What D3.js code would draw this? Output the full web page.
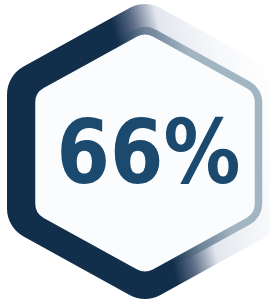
<!DOCTYPE html>
<html>
<head>
<meta charset="utf-8">
<script src="https://cdn.jsdelivr.net/npm/d3@7"></script>
<style>
  html, body { margin: 0; padding: 0; background: #ffffff; }
  #chart { width: 270px; height: 303px; }
</style>
</head>
<body>
<div id="chart"></div>
<script>
// stat shown in the badge
const values = [66];
const labels = ['66%'];
const colors = ['#112e4b', '#1c4a6e', '#a1b5c3'];

const width = 270, height = 303;

const svg = d3.select('#chart').append('svg')
    .attr('width', width)
    .attr('height', height);

// hexagon path with rounded corners (pointy top)
function hexPath(cx, cy, hw, hh, r) {
    const pts = [
        [cx, cy - hh], [cx + hw, cy - hh / 2], [cx + hw, cy + hh / 2],
        [cx, cy + hh], [cx - hw, cy + hh / 2], [cx - hw, cy - hh / 2]
    ];
    const p = d3.path();
    const n = pts.length;
    const m0 = [(pts[n - 1][0] + pts[0][0]) / 2, (pts[n - 1][1] + pts[0][1]) / 2];
    p.moveTo(m0[0], m0[1]);
    for (let i = 0; i < n; i++) {
        const a = pts[i], b = pts[(i + 1) % n];
        p.arcTo(a[0], a[1], b[0], b[1], r);
    }
    p.closePath();
    return p.toString();
}

// gradient direction (fade goes right and slightly up)
const dir = [0.970, -0.2425];
const defs = svg.append('defs');

const band = defs.append('linearGradient')
    .attr('id', 'band')
    .attr('gradientUnits', 'userSpaceOnUse')
    .attr('x1', 103 * dir[0]).attr('y1', 103 * dir[1])
    .attr('x2', 270 * dir[0]).attr('y2', 270 * dir[1]);
[[0, colors[0], 1], [0.12, '#5b6b86', 1], [0.27, '#e2e6ee', 1],
 [0.6, '#f2f4f8', 0.6], [1, '#ffffff', 0]].forEach(s => {
    band.append('stop').attr('offset', s[0])
        .attr('stop-color', s[1]).attr('stop-opacity', s[2]);
});

const edge = defs.append('linearGradient')
    .attr('id', 'edge')
    .attr('gradientUnits', 'userSpaceOnUse')
    .attr('x1', 103 * dir[0]).attr('y1', 103 * dir[1])
    .attr('x2', 170 * dir[0]).attr('y2', 170 * dir[1]);
edge.append('stop').attr('offset', 0).attr('stop-color', colors[0]);
edge.append('stop').attr('offset', 0.45).attr('stop-color', '#6c8096');
edge.append('stop').attr('offset', 1).attr('stop-color', colors[2]);

// outer band
svg.append('path')
    .attr('d', hexPath(145, 151.5, 138, 152, 32))
    .attr('fill', 'url(#band)');

// inner face
svg.append('path')
    .attr('d', hexPath(145, 153, 113.5, 125, 20))
    .attr('fill', '#fafcfd')
    .attr('stroke', 'url(#edge)')
    .attr('stroke-width', 7.5);

// value label
svg.selectAll('.value')
    .data(values)
    .enter()
    .append('text')
    .attr('class', 'value')
    .attr('x', 148.5)
    .attr('y', 183)
    .attr('text-anchor', 'middle')
    .attr('textLength', 184)
    .attr('lengthAdjust', 'spacingAndGlyphs')
    .style('font-family', '"DejaVu Sans", sans-serif')
    .style('font-weight', 700)
    .style('font-size', '89px')
    .style('fill', colors[1])
    .text((d, i) => labels[i]);
</script>
</body>
</html>
